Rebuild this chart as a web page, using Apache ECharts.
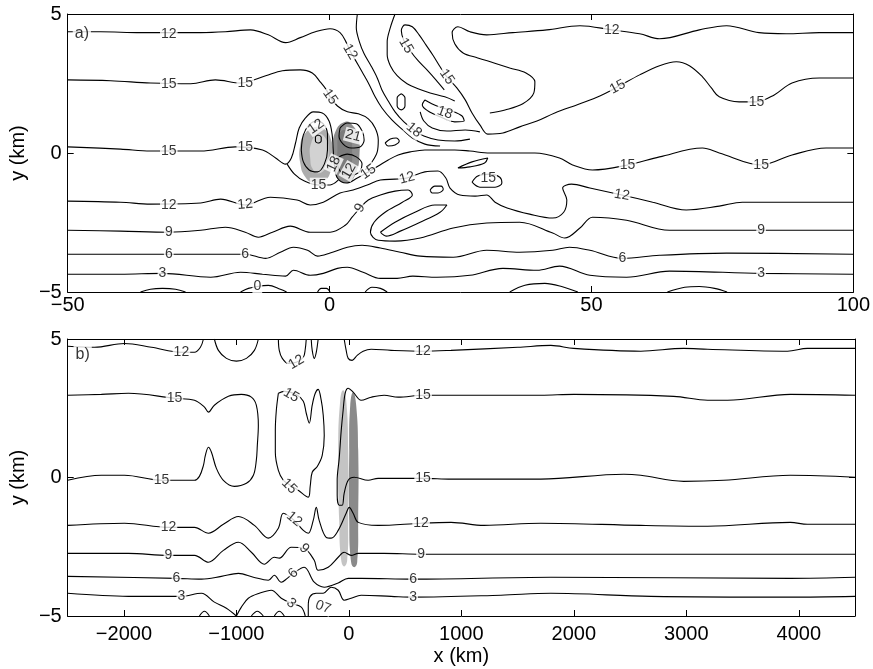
<!DOCTYPE html>
<html><head><meta charset="utf-8">
<script src="https://cdn.jsdelivr.net/npm/echarts@6/dist/echarts.min.js"></script>
<style>html,body{margin:0;padding:0;background:#fff}#c{width:873px;height:669px}</style>
</head><body><div id="c"></div>
<script>
// ---------- axes / ticks ----------
const aXTicks = [-50, 0, 50, 100];
const aYTicks = [-5, 0, 5];
const bXRange = [-2500, 4500];
const bXTicks = [-2000, -1000, 0, 1000, 2000, 3000, 4000];
const bYTicks = [-5, 0, 5];

// ---------- panel a : contour lines (x km, y km) ----------
const a12TopLeft = [[-50,4.36],[-43.7,4.36],[-36.1,4.33],[-24.6,4.33],[-19.9,4.36],[-15.1,4.43],[-11.7,4.25],[-8.4,3.97],[-5.6,4.15],[-2.7,4.36],[0.1,4.47],[2.0,4.33],[3.2,3.97],[3.9,3.68],[4.9,3.35],[6.2,2.92],[7.6,2.45],[8.7,2.02],[10.0,1.62],[11.9,1.19],[14.0,0.83],[15.8,0.54],[18.2,0.32],[21.1,0.25]];
const aTopDiag = [[5.3,5.0],[5.1,4.51],[5.7,4.0],[6.6,3.57],[7.9,3.14],[9.1,2.70],[10.0,2.27],[11.2,1.87],[12.5,1.48],[14.2,1.12],[16.1,0.83],[18.0,0.61],[20.7,0.47],[23.9,0.43],[26.8,0.50]];
const a15Upper = [[-50,2.63],[-41.8,2.60],[-34.2,2.52],[-26.5,2.49],[-21.8,2.63],[-17.0,2.52],[-12.2,2.78],[-9.0,2.96],[-5.6,2.99],[-3.3,2.88],[-1.8,2.56],[-0.6,2.27],[0.1,2.02],[1.5,1.69],[3.4,1.48],[5.5,1.41],[7.4,1.23],[8.7,0.90],[9.3,0.47],[9.1,0.04],[8.1,-0.32],[6.8,-0.61]];
const a15Mid = [[-50,0.22],[-39.9,0.14],[-34.2,0.07],[-24.6,0.07],[-18.0,0.22],[-12.8,0.11],[-10.3,-0.18],[-8.4,-0.40],[-7.3,-0.18],[-6.5,0.36],[-5.8,0.90],[-4.6,1.26],[-3.1,1.48],[-1.4,1.44],[-0.1,1.15],[0.5,0.65],[0.7,0.11],[0.9,-0.43],[1.5,-0.90],[3.2,-1.08],[5.3,-0.90],[7.4,-0.68],[9.3,-0.47],[11.2,-0.25],[13.1,-0.07],[15.4,0.04],[18.2,0.11],[21.1,0.11],[23.9,0.11],[26.8,0.07],[30.6,0.0],[34.4,0.0],[39.2,0.0],[43.9,-0.18],[46.4,-0.43],[50.2,-0.61],[56.9,-0.43],[63.0,-0.14],[71.2,0.18],[74.4,0.0],[82.4,-0.43],[88.3,-0.07],[94.8,0.18],[100,0.18]];
const a15Under = [[-8.1,-0.40],[-6.7,-0.76],[-4.8,-1.01],[-2.2,-1.15],[0.1,-1.15],[1.7,-0.97]];
const aLoop12Left = [[-5.4,0.11],[-5.0,0.65],[-3.9,1.01],[-2.5,1.15],[-1.2,1.05],[-0.4,0.68],[-0.4,0.11],[-1.0,-0.40],[-2.3,-0.68],[-3.9,-0.61],[-5.0,-0.32],[-5.4,0.11]];
const aLoopTiny = [[-2.2,0.65],[-1.6,0.58],[-1.6,0.43],[-2.2,0.36],[-2.7,0.43],[-2.7,0.58],[-2.2,0.65]];
const aLoop21 = [[2.0,0.90],[3.4,1.08],[5.1,1.05],[6.2,0.79],[6.6,0.47],[5.8,0.22],[4.1,0.18],[2.6,0.32],[1.8,0.61],[2.0,0.90]];
const aLoop12Right = [[1.8,-0.14],[3.4,-0.04],[5.1,-0.14],[6.2,-0.40],[5.8,-0.65],[4.3,-0.79],[2.6,-0.76],[1.7,-0.54],[1.5,-0.32],[1.8,-0.14]];
const a12Lower = [[-50,-1.73],[-39.9,-1.77],[-34.2,-1.84],[-24.6,-1.80],[-20.8,-1.66],[-16.1,-1.87],[-11.3,-1.59],[-6.2,-1.69],[-3.7,-1.87],[-1.2,-1.77],[2.0,-1.44],[4.5,-1.33],[7.2,-1.15],[9.7,-0.97],[12.5,-0.94],[14.8,-0.90],[18.2,-0.68],[20.7,-0.65],[22.2,-0.90],[23.0,-1.26],[24.9,-1.51],[27.8,-1.55],[30.0,-1.51],[31.6,-1.77],[33.9,-1.98],[38.2,-2.20],[42.6,-2.34],[44.7,-2.13],[45.3,-1.69],[44.5,-1.26],[46.2,-1.12],[49.7,-1.26],[55.8,-1.51],[61.7,-1.77],[68.1,-2.05],[74.4,-1.91],[78.8,-1.77],[89.7,-1.77],[100,-1.77]];
const a9 = [[-50,-2.78],[-39.9,-2.81],[-30.7,-2.85],[-24.6,-2.78],[-19.9,-2.67],[-16.1,-2.85],[-13.6,-3.03],[-10.9,-2.85],[-7.5,-2.63],[-3.7,-2.85],[0.1,-2.85],[3.0,-2.60],[4.3,-2.31],[5.8,-1.98],[7.4,-1.69],[9.7,-1.51],[12.5,-1.37],[15.0,-1.33],[15.8,-1.51],[13.9,-1.77],[10.6,-2.13],[8.5,-2.49],[7.8,-2.85],[9.3,-3.14],[12.5,-3.17],[17.3,-3.06],[23.6,-2.70],[30.0,-2.52],[36.3,-2.49],[42.6,-2.88],[44.9,-3.06],[47.8,-2.70],[50.2,-2.31],[56.7,-2.42],[64.9,-2.78],[82.4,-2.78],[89.7,-2.78],[100,-2.78]];
const a9Loop = [[9.7,-2.85],[12.5,-2.49],[16.3,-2.13],[20.1,-1.87],[22.4,-1.87],[21.1,-2.13],[17.3,-2.49],[13.5,-2.81],[10.8,-2.99],[9.7,-2.85]];
const aDot1 = [[19.2,-1.33],[20.1,-1.19],[21.3,-1.19],[21.7,-1.30],[20.7,-1.44],[19.6,-1.44],[19.2,-1.33]];
const a6 = [[-50,-3.64],[-39.9,-3.64],[-24.6,-3.64],[-16.1,-3.64],[-12.2,-3.79],[-9.4,-3.57],[-6.9,-3.39],[-4.2,-3.50],[-2.3,-3.71],[0.1,-3.60],[3.4,-3.39],[6.2,-3.32],[9.7,-3.42],[13.5,-3.57],[17.3,-3.71],[23.6,-3.75],[30.0,-3.50],[36.3,-3.57],[42.6,-3.50],[45.8,-3.39],[49.7,-3.50],[55.9,-3.79],[63.0,-3.68],[75.8,-3.60],[100,-3.64]];
const a3 = [[-50,-4.36],[-39.9,-4.36],[-31.9,-4.33],[-22.7,-4.47],[-17.0,-4.29],[-12.8,-4.36],[-8.4,-4.43],[-6.9,-4.22],[-3.7,-4.40],[-1.2,-4.33],[1.5,-4.15],[3.4,-4.11],[6.4,-4.29],[9.7,-4.51],[12.9,-4.51],[15.9,-4.43],[20.5,-4.47],[26.8,-4.40],[33.1,-4.15],[39.6,-4.22],[43.9,-4.07],[49.7,-4.40],[56.7,-4.47],[64.9,-4.25],[82.4,-4.33],[100,-4.36]];
const a0a = [[-36.1,-5],[-34.2,-4.90],[-31.9,-4.87],[-29.4,-4.90],[-27.5,-5]];
const a0b = [[-17.0,-5],[-15.5,-4.87],[-13.8,-4.80],[-11.7,-4.76],[-9.4,-4.90],[-8.2,-5]];
const a0c = [[-2.3,-5],[-1.6,-4.87],[-0.6,-4.87],[0.1,-5]];
const a0d = [[6.8,-5],[8.1,-4.83],[9.7,-4.87],[11.0,-5]];
const a0e = [[34.4,-5],[37.3,-4.76],[41.1,-4.69],[44.3,-4.80],[47.4,-5]];
const a0f = [[64.5,-5],[67.8,-4.83],[70.6,-4.80],[73.5,-4.87],[75.9,-5]];
const a12Lobe = [[100,4.33],[93.5,4.33],[87.2,4.29],[82.0,4.33],[75.8,4.58],[70.6,4.43],[63.0,4.11],[59.2,4.29],[53.9,4.43],[47.8,4.58],[41.5,4.43],[35.0,4.33],[30.0,4.25],[26.8,4.36],[24.5,4.54],[23.4,4.33],[23.9,3.93],[25.5,3.60],[28.3,3.42],[31.4,3.24],[34.4,3.06],[37.5,2.88],[39.2,2.56],[39.0,2.16],[36.9,1.77],[33.5,1.55],[30.6,1.44]];
const a15Right = [[100,2.70],[93.5,2.70],[88.3,2.52],[84.9,2.09],[81.5,1.84],[78.2,1.84],[74.4,2.02],[72.9,2.34],[71.2,2.74],[68.7,3.14],[66.2,3.28],[63.0,3.14],[59.2,2.81],[55.0,2.38],[51.6,2.05],[47.8,1.77],[43.0,1.44],[39.6,1.15],[36.3,0.94],[33.1,0.72],[30.2,0.68],[28.7,1.01],[27.2,1.44],[25.9,1.91],[24.3,2.34],[22.4,2.74],[21.1,3.10],[19.8,3.50],[18.4,3.89],[17.1,4.25],[15.8,4.54],[14.4,4.61],[13.7,4.40],[14.2,4.04],[15.4,3.68],[16.9,3.32],[18.6,2.99],[20.3,2.63],[21.9,2.27]];
const a18Loop = [[18.2,1.91],[20.5,1.69],[23.4,1.51],[25.3,1.33],[25.7,1.15],[23.9,1.12],[21.1,1.30],[18.8,1.51],[17.7,1.73],[18.2,1.91]];
const aArcTop = [[12.5,5.0],[11.6,4.51],[11.0,4.0],[11.0,3.53],[11.6,3.14],[12.9,2.78],[14.8,2.49],[16.9,2.31],[19.2,2.16],[22.0,2.02],[23.9,1.87]];
const aArcMid = [[17.3,1.48],[18.0,1.15],[19.6,0.90],[22.4,0.79],[25.9,0.83],[28.7,0.76]];
const aDot2 = [[13.7,2.13],[14.4,1.98],[14.4,1.69],[13.7,1.55],[12.9,1.69],[12.9,1.98],[13.7,2.13]];
const aDot3 = [[10.6,0.36],[11.6,0.50],[12.7,0.54],[13.3,0.43],[12.5,0.29],[11.2,0.25],[10.6,0.36]];
const aThin = [[24.5,-0.54],[27.2,-0.32],[30.2,-0.18],[29.6,-0.36],[26.8,-0.50],[24.5,-0.54]];
const a15Small = [[27.2,-1.05],[28.3,-0.83],[30.6,-0.76],[32.5,-0.87],[32.9,-1.08],[31.6,-1.23],[28.7,-1.23],[27.2,-1.05]];

// panel a : shaded blobs
const aBlobLeftOuter = [[-2.5,0.94],[-0.8,0.83],[0.3,0.47],[0.7,-0.07],[0.3,-0.61],[-1.0,-1.01],[-2.9,-1.08],[-4.6,-0.87],[-5.6,-0.36],[-5.6,0.29],[-4.6,0.72]];
const aBlobLeftInner = [[-2.2,0.68],[-0.8,0.54],[-0.2,0.11],[-0.6,-0.43],[-1.8,-0.72],[-3.1,-0.61],[-3.7,-0.18],[-3.5,0.36]];
const aBlobRightOuter = [[3.0,1.12],[4.5,0.97],[5.5,0.58],[5.7,-0.07],[5.1,-0.68],[3.6,-1.05],[1.8,-0.97],[0.9,-0.54],[0.7,0.11],[1.1,0.76]];
const aBlobRightCore = [[2.8,0.83],[3.9,0.65],[4.3,0.11],[3.9,-0.54],[2.6,-0.72],[1.7,-0.43],[1.5,0.18],[1.8,0.65]];

// panel a : contour labels [x, y, text, rotation]
const aLabels = [
 [-30.7,4.29,'12',0],[3.9,3.64,'12',-60],[53.9,4.43,'12',0],
 [-30.7,2.47,'15',0],[-16.1,2.50,'15',0],[0.1,2.02,'15',-55],
 [55.0,2.38,'15',28],[81.5,1.84,'15',0],[22.4,2.74,'15',-55],[14.6,3.86,'15',-60],
 [16.1,0.83,'18',-40],[22.0,1.45,'18',-20],
 [-30.7,0.05,'15',0],[-16.1,0.2,'15',0],[0.8,-0.4,'18',65],[7.4,-0.68,'15',35],[56.9,-0.43,'15',0],[82.4,-0.43,'15',0],
 [-2.1,-1.14,'15',0],[-2.6,0.95,'12',35],[4.5,0.62,'21',-15],[3.7,-0.65,'12',60],[30.3,-0.9,'15',0],
 [-30.7,-1.87,'12',0],[-16.1,-1.85,'12',5],[14.8,-0.90,'12',15],[55.8,-1.51,'12',-10],
 [-30.7,-2.85,'9',0],[5.8,-1.98,'9',60],[82.4,-2.78,'9',0],
 [-30.7,-3.64,'6',0],[-16.1,-3.64,'6',0],[55.9,-3.79,'6',0],
 [-31.9,-4.33,'3',0],[82.4,-4.33,'3',0],
 [-13.8,-4.80,'0',0]
];

// ---------- panel b : contour lines ----------
const b12a = [[-2500,4.74],[-2261,4.70],[-1995,4.84],[-1755,4.70],[-1489,4.52],[-1373,4.52],[-1320,4.70],[-1293,5]];
const b12b = [[-1196,5],[-1160,4.59],[-1089,4.30],[-1000,4.20],[-911,4.30],[-840,4.59],[-805,5]];
const b12c = [[-627,5],[-619,4.59],[-592,4.30],[-539,4.12],[-468,4.16],[-405,4.34],[-388,4.63],[-379,5]];
const b12d = [[-335,5],[-326,4.59],[-308,4.30],[-290,4.52],[-273,5]];
const b12e = [[-42,5],[-24,4.59],[-6,4.30],[29,4.23],[74,4.41],[127,4.56],[198,4.63],[375,4.59],[660,4.56],[908,4.59],[1503,4.70],[1796,4.77],[2000,4.66],[2595,4.56],[2977,4.66],[3190,4.63],[3900,4.56],[4077,4.66],[4500,4.66]];
const b15a = [[-2500,2.97],[-2201,3.00],[-1960,3.04],[-1551,2.86],[-1373,2.79],[-1284,2.54],[-1249,2.36],[-1196,2.61],[-1071,2.93],[-956,3.00],[-867,2.90],[-823,2.61],[-805,1.88],[-814,1.16],[-823,0.62],[-849,0.08],[-911,-0.21],[-1018,-0.32],[-1116,-0.10],[-1178,0.33],[-1222,0.91],[-1249,1.09],[-1276,0.80],[-1293,0.44],[-1329,0.04],[-1373,-0.10],[-1666,-0.10],[-1995,0.08],[-2201,0.08],[-2500,-0.10]];
const b15b = [[-627,3.04],[-645,2.43],[-654,1.70],[-654,0.91],[-627,0.26],[-583,-0.10],[-530,-0.25],[-450,-0.46],[-361,-0.71],[-344,-0.32],[-326,0.19],[-281,0.40],[-237,0.80],[-219,1.52],[-228,2.25],[-246,2.79],[-273,3.18],[-299,3.04],[-326,2.61],[-352,1.96],[-379,2.32],[-405,2.75],[-468,3.00],[-574,3.11],[-627,3.04]];
const b15c = [[4500,2.97],[3926,3.00],[3367,2.79],[3190,2.79],[2888,2.93],[2000,3.00],[1707,2.97],[908,2.97],[660,2.97],[438,2.90],[313,2.97],[198,2.90],[109,2.79],[38,3.08],[-6,3.22],[-33,3.04],[-51,2.43],[-68,1.70],[-86,0.69],[-104,-0.10],[-104,-0.64],[-86,-1.00],[-59,-1.00],[-42,-0.57],[-6,-0.10],[47,0.01],[171,-0.10],[260,-0.03],[375,-0.03],[660,-0.03],[908,-0.06],[1707,-0.06],[2444,0.12],[2595,0.08],[2977,-0.14],[3332,-0.10],[3926,0.08],[4500,0.01]];
const b12f = [[-2500,-1.73],[-1995,-1.65],[-1604,-1.80],[-1373,-1.80],[-1249,-2.01],[-1116,-1.69],[-982,-1.41],[-840,-1.73],[-716,-2.19],[-627,-1.83],[-583,-1.29],[-486,-1.55],[-405,-1.91],[-361,-2.01],[-317,-1.55],[-290,-1.08],[-264,-1.55],[-202,-2.16],[-157,-2.19],[-95,-1.91],[-24,-1.29],[3,-1.08],[38,-1.29],[83,-1.62],[260,-1.73],[642,-1.65],[908,-1.62],[1201,-1.73],[1707,-1.65],[2595,-1.73],[3190,-1.76],[3926,-1.62],[4077,-1.69],[4500,-1.69]];
const b9 = [[-2500,-2.74],[-1960,-2.74],[-1604,-2.81],[-1373,-2.81],[-1249,-3.06],[-1116,-2.63],[-982,-2.34],[-867,-2.70],[-752,-3.13],[-663,-2.88],[-619,-2.91],[-512,-2.52],[-397,-2.56],[-308,-2.99],[-273,-3.35],[-184,-3.24],[-95,-2.88],[-42,-2.70],[20,-2.81],[83,-2.74],[313,-2.74],[642,-2.77],[1201,-2.77],[1707,-2.77],[4500,-2.77]];
const b6 = [[-2500,-3.57],[-1533,-3.64],[-1311,-3.67],[-1134,-3.57],[-982,-3.46],[-849,-3.60],[-716,-3.71],[-663,-3.53],[-601,-3.78],[-548,-3.64],[-494,-3.46],[-397,-3.24],[-308,-3.78],[-219,-3.96],[-95,-3.81],[-6,-3.64],[109,-3.64],[571,-3.67],[1796,-3.60],[3926,-3.64],[4500,-3.60]];
const b3a = [[-2500,-4.18],[-1960,-4.29],[-1489,-4.29],[-1311,-4.18],[-1196,-4.50],[-1089,-4.72],[-1000,-5]];
const b3b = [[-1000,-5],[-956,-4.68],[-894,-4.36],[-796,-4.18],[-690,-4.07],[-601,-4.36],[-512,-4.54],[-423,-4.68],[-388,-5]];
const b3c = [[-361,-5],[-361,-4.61],[-344,-4.29],[-290,-4.18],[-228,-4.18],[-157,-3.96],[-95,-4.07],[-42,-4.43],[20,-4.36],[109,-4.25],[375,-4.29],[571,-4.32],[1352,-4.25],[1796,-4.18],[2684,-4.29],[3926,-4.32],[4500,-4.29]];
const b0a = [[-1329,-5],[-1284,-4.83],[-1240,-5]];
const b0b = [[-867,-5],[-814,-4.83],[-761,-5]];
const b0c = [[-663,-5],[-619,-4.83],[-574,-5]];

// panel b : shaded blobs
const bBlobLight = [[-51,3.15],[-24,2.79],[-6,0.98],[-6,-1.55],[-15,-2.99],[-42,-3.21],[-68,-2.99],[-86,-1.55],[-95,0.98],[-77,2.79]];
const bBlobDark = [[38,3.08],[65,2.61],[83,0.98],[83,-1.55],[74,-3.06],[47,-3.24],[20,-3.06],[3,-1.55],[3,0.98],[12,2.61]];

// panel b : contour labels
const bLabels = [
 [-1489,4.52,'12',0],[-468,4.16,'12',30],[660,4.56,'12',0],
 [-1551,2.86,'15',0],[-1666,-0.10,'15',0],[-512,2.97,'15',-30],[-530,-0.32,'15',-45],[660,2.97,'15',0],[660,-0.03,'15',0],
 [-1604,-1.80,'12',0],[-486,-1.50,'12',-40],[642,-1.65,'12',0],
 [-1604,-2.81,'9',0],[-397,-2.56,'9',-45],[642,-2.77,'9',0],
 [-1533,-3.64,'6',0],[-494,-3.46,'6',45],[571,-3.67,'6',0],
 [-1489,-4.29,'3',0],[-512,-4.54,'3',-40],[571,-4.32,'3',0],
 [-230,-4.68,'07',-20]
];
const panelTags = [[0, -47.3, 4.29, 'a)'], [1, -2367, 4.45, 'b)']];

// ---------- build ----------
const FONT = 'Liberation Sans';
const panelALines = [a12TopLeft,aTopDiag,a15Upper,a15Mid,a15Under,aLoop12Left,aLoopTiny,aLoop21,aLoop12Right,a12Lower,a9,a9Loop,aDot1,a6,a3,a0a,a0b,a0c,a0d,a0e,a0f,a12Lobe,a15Right,a18Loop,aArcTop,aArcMid,aDot2,aDot3,aThin,a15Small];
const panelBLines = [b12a,b12b,b12c,b12d,b12e,b15a,b15b,b15c,b12f,b9,b6,b3a,b3b,b3c,b0a,b0b,b0c];

const minus = v => String(v).replace('-', '\u2212');

function xAxisDef(gi, pos, ticks, range, show, name, extra) {
  return Object.assign({
    type: 'value', gridIndex: gi, position: pos, min: range[0], max: range[1],
    axisLine: {show: true, onZero: false, lineStyle: {color: '#000', width: 1}},
    axisTick: {show: true, inside: true, length: 6, lineStyle: {color: '#000'}},
    splitLine: {show: false},
    axisLabel: {show: show, fontSize: 20, fontFamily: FONT, color: '#000', formatter: minus,
      margin: gi === 0 ? 3 : 8, showMinLabel: gi === 0, showMaxLabel: gi === 0},
    name: name || '', nameLocation: 'middle', nameGap: 30,
    nameTextStyle: {fontSize: 20, fontFamily: FONT, color: '#000'}
  }, extra);
}
function yAxisDef(gi, pos, show) {
  return {
    type: 'value', gridIndex: gi, position: pos, min: -5, max: 5, interval: 5,
    axisLine: {show: true, onZero: false, lineStyle: {color: '#000', width: 1}},
    axisTick: {show: true, inside: true, length: 6, lineStyle: {color: '#000'}},
    splitLine: {show: false},
    axisLabel: {show: show, fontSize: 20, fontFamily: FONT, color: '#000', formatter: minus, margin: 6},
    name: show ? 'y (km)' : '', nameLocation: 'middle', nameGap: 38, nameRotate: 90,
    nameTextStyle: {fontSize: 20, fontFamily: FONT, color: '#000'}
  };
}

const aRange = [aXTicks[0], aXTicks[aXTicks.length - 1]];
const aInt = aXTicks[1] - aXTicks[0];
const bInt = bXTicks[1] - bXTicks[0];
const bSplit = Math.round((bXRange[1] - bXRange[0]) / bInt);

const xAxes = [
  xAxisDef(0, 'bottom', aXTicks, aRange, true, '', {interval: aInt}),
  xAxisDef(0, 'top', aXTicks, aRange, false, '', {interval: aInt}),
  xAxisDef(1, 'bottom', bXTicks, bXRange, true, 'x (km)', {splitNumber: bSplit}),
  xAxisDef(1, 'top', bXTicks, bXRange, false, '', {splitNumber: bSplit})
];
const yAxes = [yAxisDef(0, 'left', true), yAxisDef(0, 'right', false), yAxisDef(1, 'left', true), yAxisDef(1, 'right', false)];

const series = [];
function blob(pts, color, xi, yi) {
  series.push({
    type: 'custom', xAxisIndex: xi, yAxisIndex: yi, data: pts, encode: {x: 0, y: 1},
    silent: true, z: 1, animation: false,
    renderItem: function (params, api) {
      if (params.dataIndex !== 0) return null;
      return {type: 'polygon', shape: {points: pts.map(p => api.coord(p)), smooth: 0.5},
        style: {fill: color, stroke: null}};
    }
  });
}
blob(aBlobLeftOuter, '#acacac', 0, 0);
blob(aBlobLeftInner, '#d2d2d2', 0, 0);
blob(aBlobRightOuter, '#8e8e8e', 0, 0);
blob(aBlobRightCore, '#7c7c7c', 0, 0);
blob(bBlobLight, '#c4c4c4', 2, 2);
blob(bBlobDark, '#8a8a8a', 2, 2);

function lines(list, xi, yi) {
  list.forEach(d => series.push({
    type: 'line', xAxisIndex: xi, yAxisIndex: yi, data: d, showSymbol: false, symbol: 'none',
    smooth: 0.35, silent: true, z: 2, animation: false,
    lineStyle: {color: '#000', width: 1.1}
  }));
}
lines(panelALines, 0, 0);
lines(panelBLines, 2, 2);

function labels(list, xi, yi) {
  series.push({
    type: 'scatter', xAxisIndex: xi, yAxisIndex: yi, symbolSize: 1, silent: true, z: 5, animation: false,
    itemStyle: {color: 'rgba(0,0,0,0)'},
    data: list.map(l => ({value: [l[0], l[1]], name: l[2], label: {rotate: l[3]}})),
    label: {show: true, position: 'inside', formatter: p => p.name, fontSize: 14, fontFamily: FONT,
      color: '#000', backgroundColor: '#fff', padding: [0, 1]},
    labelLayout: {hideOverlap: false}
  });
}
labels(aLabels, 0, 0);
labels(bLabels, 2, 2);
panelTags.forEach(t => series.push({
  type: 'scatter', xAxisIndex: t[0] * 2, yAxisIndex: t[0] * 2, symbolSize: 1, silent: true, z: 6, animation: false,
  itemStyle: {color: 'rgba(0,0,0,0)'},
  data: [{value: [t[1], t[2]], name: t[3]}],
  label: {show: true, position: 'inside', formatter: p => p.name, fontSize: 16, fontFamily: FONT,
    color: '#000', backgroundColor: '#fff', padding: [1, 2]}
}));

const chart = echarts.init(document.getElementById('c'), null, {renderer: 'canvas'});
chart.setOption({
  animation: false,
  backgroundColor: '#fff',
  grid: [
    {left: 66, right: 18, top: 14, height: 278},
    {left: 66, right: 18, top: 339, height: 277}
  ],
  xAxis: xAxes,
  yAxis: yAxes,
  series: series
});
</script></body></html>
